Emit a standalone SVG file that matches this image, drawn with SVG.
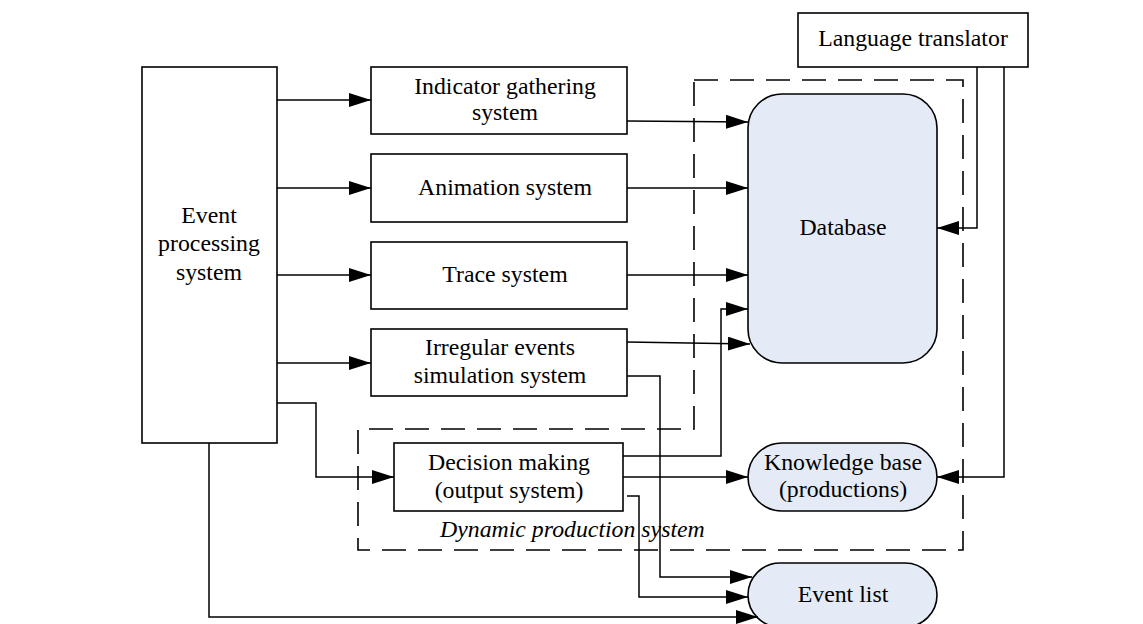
<svg xmlns="http://www.w3.org/2000/svg" width="1143" height="624" viewBox="0 0 1143 624">
<style>
.box{fill:#fff;stroke:#000;stroke-width:1.6}
.db{fill:#E5EBF6;stroke:#000;stroke-width:1.6}
.ln{fill:none;stroke:#000;stroke-width:1.5}
.dash{fill:none;stroke:#000;stroke-width:1.6;stroke-dasharray:24 12}
.t{font-family:'Liberation Serif',Tinos,'DejaVu Serif',serif;font-size:23.8px;fill:#000;text-anchor:middle}
.it{font-style:italic;text-anchor:start}
</style>
<defs>
<marker id="ah" markerUnits="userSpaceOnUse" markerWidth="23" markerHeight="15" refX="22" refY="7" orient="auto">
<path d="M0,0 L22,7 L0,14 z" fill="#000"/>
</marker>
</defs>
<rect width="1143" height="624" fill="#fff"/>
<g id="dynamic-production-system">
<path class="dash" d="M694,80 H963 V550 H358 V429 H694 Z"/>
<text class="t it" x="440" y="537" font-family="Liberation Serif">Dynamic production system</text>
</g>
<g id="event-processing">
<rect class="box" x="142" y="67" width="135" height="376"/>
<text class="t" x="209" y="223" font-family="Liberation Serif">Event</text>
<text class="t" x="209" y="251" font-family="Liberation Serif">processing</text>
<text class="t" x="209" y="280" font-family="Liberation Serif">system</text>
</g>
<g id="indicator">
<rect class="box" x="371" y="67" width="256" height="67"/>
<text class="t" x="505" y="94" font-family="Liberation Serif">Indicator gathering</text>
<text class="t" x="505" y="120" font-family="Liberation Serif">system</text>
</g>
<g id="animation">
<rect class="box" x="371" y="154" width="256" height="68"/>
<text class="t" x="505" y="195" font-family="Liberation Serif">Animation system</text>
</g>
<g id="trace">
<rect class="box" x="371" y="242" width="256" height="67"/>
<text class="t" x="505" y="282" font-family="Liberation Serif">Trace system</text>
</g>
<g id="irregular">
<rect class="box" x="371" y="329" width="256" height="67"/>
<text class="t" x="500" y="355" font-family="Liberation Serif">Irregular events</text>
<text class="t" x="500" y="383" font-family="Liberation Serif">simulation system</text>
</g>
<g id="decision">
<rect class="box" x="394" y="443" width="229" height="68"/>
<text class="t" x="509" y="470" font-family="Liberation Serif">Decision making</text>
<text class="t" x="509" y="498" font-family="Liberation Serif">(output system)</text>
</g>
<g id="language">
<rect class="box" x="798" y="13" width="230" height="54"/>
<text class="t" x="913" y="46" font-family="Liberation Serif">Language translator</text>
</g>
<g id="database">
<rect class="db" x="748" y="94" width="189" height="269" rx="34" ry="34"/>
<text class="t" x="843" y="235" font-family="Liberation Serif">Database</text>
</g>
<g id="knowledge">
<rect class="db" x="748" y="443" width="189" height="68" rx="34" ry="34"/>
<text class="t" x="843" y="470" font-family="Liberation Serif">Knowledge base</text>
<text class="t" x="843" y="497" font-family="Liberation Serif">(productions)</text>
</g>
<g id="event-list">
<rect class="db" x="748" y="563" width="189" height="64" rx="32" ry="32"/>
<text class="t" x="843" y="602" font-family="Liberation Serif">Event list</text>
</g>
<g id="connectors">
<path class="ln" marker-end="url(#ah)" d="M277,100 H371"/>
<path class="ln" marker-end="url(#ah)" d="M277,188 H371"/>
<path class="ln" marker-end="url(#ah)" d="M277,275 H371"/>
<path class="ln" marker-end="url(#ah)" d="M277,363 H371"/>
<path class="ln" marker-end="url(#ah)" d="M277,403 H316 V477 H394"/>
<path class="ln" marker-end="url(#ah)" d="M209,443 V617 H758"/>
<path class="ln" marker-end="url(#ah)" d="M627,121 L748,122"/>
<path class="ln" marker-end="url(#ah)" d="M627,188 H748"/>
<path class="ln" marker-end="url(#ah)" d="M627,275 H748"/>
<path class="ln" marker-end="url(#ah)" d="M627,342 L750,344"/>
<path class="ln" marker-end="url(#ah)" d="M623,456 H721 V309 H748"/>
<path class="ln" marker-end="url(#ah)" d="M623,477 H748"/>
<path class="ln" marker-end="url(#ah)" d="M627,496 H639 V597 H748"/>
<path class="ln" marker-end="url(#ah)" d="M627,376 H660 V577 H752"/>
<path class="ln" marker-end="url(#ah)" d="M977,67 V228 H937"/>
<path class="ln" marker-end="url(#ah)" d="M1004,67 V477 H937"/>
</g>
</svg>
